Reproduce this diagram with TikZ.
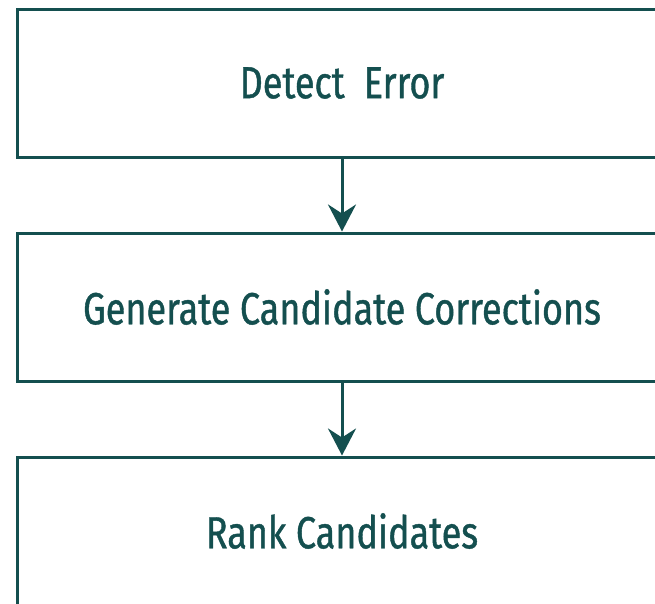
\documentclass[tikz,border=0pt]{standalone}
\usepackage{fontspec}
\setmainfont[FakeStretch=0.80, FakeBold=0.9]{Fira Sans}
\usepackage{xcolor}
\usepackage{tikz}
\usetikzlibrary{arrows.meta,positioning}

\definecolor{darkteal}{HTML}{144F4F}

\begin{document}
\begin{tikzpicture}[
    x=1pt, y=-1pt,
    stepbox/.style={rectangle, draw=darkteal, line width=3pt, minimum width=650pt, minimum height=148pt, text=darkteal, font=\fontsize{45}{50}\selectfont},
    flow/.style={draw=darkteal, line width=3pt, -{Stealth[length=27pt, width=28pt, inset=9pt]}},
]
\useasboundingbox (0,0) rectangle (655,603);
\clip (0,0) rectangle (655,603);

% Steps
\node[stepbox] (detect) at (342,83) {Detect\ \ Error};
\node[stepbox, below=73pt of detect] (generate) {Generate Candidate Corrections};
\node[stepbox, below=73pt of generate] (rank) {Rank Candidates};

% Arrows
\draw[flow] (detect.south) -- (generate.north);
\draw[flow] (generate.south) -- (rank.north);

\end{tikzpicture}
\end{document}
